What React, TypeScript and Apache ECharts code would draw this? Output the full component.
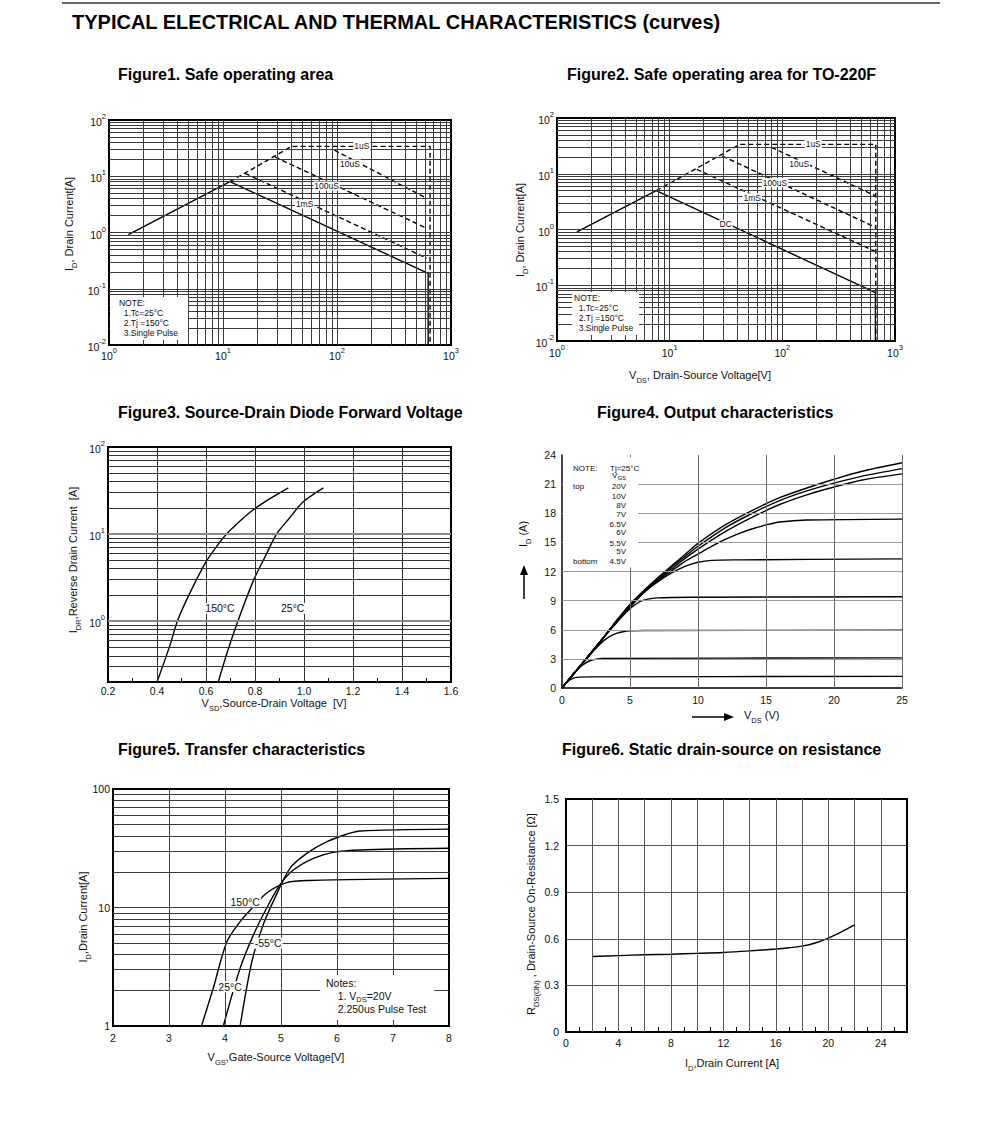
import React, { useEffect, useRef } from 'react';
import * as echarts from 'echarts';

const FONT = 'Arial, "Liberation Sans", Helvetica, sans-serif';

// ---------- Figure 1: Safe operating area ----------
const f1DC = [[1.48, 0.92], [11.5, 8.0], [630, 0.188], [630, 0.01]];
const f1P1us = [[11.5, 8.0], [40, 34], [655, 34], [655, 0.01]];
const f1P10us = [[95, 29], [612, 4.05]];
const f1P100us = [[28.6, 22], [612, 1.19]];
const f1P1ms = [[15.6, 11.3], [612, 0.35]];
const f1Labels: [number, number, string][] = [[165, 34, '1uS'], [130, 16.5, '10uS'], [81, 6.7, '100uS'], [52, 3.2, '1mS']];
const f1NoteAt = [1.02, 0.0713];

// ---------- Figure 2: Safe operating area for TO-220F ----------
const f2DC = [[1.5, 0.91], [7.6, 4.97], [670, 0.0736], [670, 0.01]];
const f2P1us = [[7.6, 4.97], [42, 33.7], [675, 33.7], [675, 0.01]];
const f2P10us = [[80, 29.8], [675, 3.99]];
const f2P100us = [[29.3, 20.8], [675, 1.09]];
const f2P1ms = [[17.4, 12.0], [675, 0.4]];
const f2Labels: [number, number, string][] = [[188, 33.7, '1uS'], [141, 14.8, '10uS'], [86, 6.9, '100uS'], [54, 3.7, '1mS'], [31.4, 1.24, 'DC']];
const f2NoteAt = [1.36, 0.0757];

// ---------- Figure 3: Source-Drain diode forward voltage ----------
const f3T150 = [[0.4, 0.2], [0.45, 0.5], [0.486, 1.05], [0.534, 2.1], [0.598, 4.7], [0.64, 7.0], [0.684, 10], [0.74, 14.2], [0.793, 19], [0.861, 25.5], [0.936, 34]];
const f3T25 = [[0.65, 0.2], [0.69, 0.47], [0.738, 1.15], [0.793, 2.9], [0.84, 5.4], [0.888, 10], [0.94, 15.2], [0.997, 23.5], [1.079, 34]];
const f3Labels: [number, number, string][] = [[0.657, 1.4, '150°C'], [0.954, 1.4, '25°C']];

// ---------- Figure 4: Output characteristics ----------
const f4V20 = [[0, 0], [1, 1.7], [2, 3.4], [3, 5.1], [4, 6.9], [5, 8.6], [6, 10.0], [7, 11.3], [8, 12.5], [9, 13.7], [10, 14.9], [12, 16.8], [14, 18.3], [16, 19.6], [18, 20.6], [20, 21.5], [22, 22.3], [25, 23.2]];
const f4V10 = [[0, 0], [1, 1.7], [2, 3.4], [3, 5.1], [4, 6.9], [5, 8.6], [6, 10.0], [7, 11.2], [8, 12.4], [9, 13.5], [10, 14.6], [12, 16.5], [14, 18.0], [16, 19.3], [18, 20.3], [20, 21.1], [22, 21.8], [25, 22.6]];
const f4V8 = [[0, 0], [1, 1.7], [2, 3.4], [3, 5.1], [4, 6.9], [5, 8.5], [6, 9.9], [7, 11.1], [8, 12.2], [9, 13.3], [10, 14.3], [12, 16.1], [14, 17.6], [16, 18.9], [18, 19.9], [20, 20.7], [22, 21.4], [25, 22.05]];
const f4V7 = [[0, 0], [1, 1.7], [2, 3.4], [3, 5.1], [4, 6.8], [5, 8.4], [6, 9.8], [7, 11.0], [8, 12.0], [9, 13.0], [10, 13.8], [11, 14.6], [12, 15.3], [13, 15.9], [14, 16.4], [15, 16.8], [16, 17.1], [18, 17.3], [25, 17.4]];
const f4V65 = [[0, 0], [1, 1.7], [2, 3.4], [3, 5.1], [4, 6.8], [5, 8.3], [6, 9.8], [7, 10.9], [8, 11.8], [9, 12.5], [10, 12.95], [11, 13.15], [13, 13.2], [25, 13.3]];
const f4V6 = [[0, 0], [1, 1.7], [2, 3.4], [3, 5.1], [4, 6.7], [4.8, 7.9], [5.5, 8.7], [6, 9.05], [7, 9.28], [10, 9.35], [25, 9.4]];
const f4V55 = [[0, 0], [1, 1.7], [2, 3.3], [2.5, 4.1], [3, 4.8], [3.5, 5.3], [4, 5.62], [4.5, 5.8], [5, 5.88], [6, 5.92], [25, 5.95]];
const f4V5 = [[0, 0], [0.5, 0.9], [1, 1.72], [1.5, 2.35], [2, 2.78], [2.5, 2.98], [3, 3.05], [25, 3.1]];
const f4V45 = [[0, 0], [0.4, 0.68], [0.8, 1.0], [1.2, 1.12], [2, 1.15], [25, 1.2]];
const f4NoteLeft: [number, number, string][] = [[0.81, 22.66, 'NOTE:'], [3.53, 22.66, 'Tj=25°C'], [0.81, 20.74, 'top'], [0.81, 13.08, 'bottom']];
const f4NoteVgs: [number, number, string][] = [[3.68, 21.82, '{m|V}{d|GS}']];
const f4NoteRight: [number, number, string][] = [[4.71, 20.74, '20V'], [4.71, 19.71, '10V'], [4.71, 18.78, '8V'], [4.71, 17.89, '7V'], [4.71, 16.89, '6.5V'], [4.71, 16.04, '6V'], [4.71, 14.86, '5.5V'], [4.71, 14.04, '5V'], [4.71, 13.08, '4.5V']];
const f4NoteBox = [[0.07, 23.8], [5.6, 12.4]];

// ---------- Figure 5: Transfer characteristics ----------
const f5T150 = [[3.58, 1.0], [3.79, 2.08], [4.03, 5.1], [4.27, 7.6], [4.51, 10.2], [4.74, 13.2], [5.1, 16.2], [5.52, 16.9], [8, 17.6]];
const f5T25 = [[3.97, 1.0], [4.27, 3.07], [4.51, 5.9], [4.74, 9.8], [4.98, 15.5], [5.22, 20.7], [5.58, 26], [5.93, 29.2], [6.41, 30.6], [8, 31.6]];
const f5Tm55 = [[4.27, 1.0], [4.48, 3.5], [4.68, 7.1], [4.86, 11.2], [5.16, 21.4], [5.46, 28.6], [5.82, 35.9], [6.17, 41.5], [6.41, 44.2], [8, 45.9]];
const f5Labels: [number, number, string][] = [[4.36, 11.2, '150°C'], [4.77, 5.0, '-55°C'], [4.09, 2.15, '25°C']];
const f5NoteAt = [5.696, 2.69];

// ---------- Figure 6: Static drain-source on resistance ----------
const f6Rds = [[2, 0.486], [4, 0.492], [6, 0.497], [8, 0.501], [10, 0.506], [12, 0.512], [14, 0.522], [16, 0.534], [17, 0.542], [18, 0.553], [19, 0.573], [20, 0.605], [21, 0.645], [22, 0.69]];

// ---------- helpers ----------
const supRich = {
  b: { fontSize: 10.5, fontFamily: FONT, color: '#111', lineHeight: 15, verticalAlign: 'bottom' },
  s: { fontSize: 7.5, fontFamily: FONT, color: '#111', lineHeight: 15, verticalAlign: 'top' },
};
const nameRich = {
  n: { fontSize: 11, fontFamily: FONT, fill: '#111', color: '#111', lineHeight: 15, verticalAlign: 'top' },
  d: { fontSize: 7.5, fontFamily: FONT, fill: '#111', color: '#111', lineHeight: 15, verticalAlign: 'bottom' },
};
const smallRich = {
  m: { fontSize: 8, fontFamily: FONT, fill: '#111', lineHeight: 10, verticalAlign: 'top' },
  d: { fontSize: 6, fontFamily: FONT, fill: '#111', lineHeight: 10, verticalAlign: 'bottom' },
};
const noteRich = {
  t: { fontSize: 10.5, fontFamily: FONT, fill: '#111', lineHeight: 13, verticalAlign: 'top' },
  u: { fontSize: 7.5, fontFamily: FONT, fill: '#111', lineHeight: 13, verticalAlign: 'bottom' },
};

const isPow10 = (v: number) => Math.abs(Math.log10(v) - Math.round(Math.log10(v))) < 1e-6;
const pow10Fmt = (v: number) => (isPow10(v) ? `{b|10}{s|${Math.round(Math.log10(v))}}` : '');
const plainPowFmt = (v: number) => (isPow10(v) ? String(Math.round(Math.pow(10, Math.round(Math.log10(v))))) : '');
const multFmt = (step: number, digits: number) => (v: number) =>
  Math.abs(v / step - Math.round(v / step)) < 1e-6 ? (v === 0 ? '0' : v.toFixed(digits)) : '';

function logVals(kMin: number, kMax: number, lo: number, hi: number) {
  const out: number[] = [];
  for (let k = kMin; k <= kMax; k++) {
    for (let m = 1; m <= 9; m++) {
      const v = m * Math.pow(10, k);
      if (v > lo * 1.0001 && v < hi * 0.9999) out.push(v);
    }
  }
  return out;
}
function linVals(from: number, to: number, step: number) {
  const out: number[] = [];
  for (let v = from; v <= to + 1e-9; v += step) out.push(Math.round(v * 1000) / 1000);
  return out;
}

function gridLines(gi: number, xs: number[], ys: number[], color: string, width: number) {
  return {
    type: 'line', xAxisIndex: gi, yAxisIndex: gi, data: [], silent: true, z: 1,
    markLine: {
      silent: true, symbol: ['none', 'none'], animation: false, label: { show: false },
      lineStyle: { color, width, type: 'solid' },
      emphasis: { disabled: true },
      data: [...xs.map((v) => ({ xAxis: v })), ...ys.map((v) => ({ yAxis: v }))],
    },
  };
}

function curve(gi: number, data: number[][], opts: any = {}) {
  return {
    type: 'line', xAxisIndex: gi, yAxisIndex: gi, data, symbol: 'none', silent: true, z: 2,
    lineStyle: { color: '#000', width: 1.4, type: 'solid' },
    ...opts,
  };
}

function logAxis(gi: number, min: number, max: number, fmt: any, margin: number) {
  return {
    gridIndex: gi, type: 'log', logBase: 10, min, max,
    axisLine: { show: false }, axisTick: { show: false }, splitLine: { show: false },
    axisLabel: { formatter: fmt, rich: supRich, margin, color: '#111', fontSize: 10.5, fontFamily: FONT, hideOverlap: false },
  };
}
function valAxis(gi: number, min: number, max: number, interval: number, fmt: any, margin: number, extra: any = {}) {
  return {
    gridIndex: gi, type: 'value', min, max, interval,
    axisLine: { show: false }, axisTick: { show: false }, splitLine: { show: false },
    axisLabel: { formatter: fmt, margin, color: '#111', fontSize: 10.5, fontFamily: FONT, hideOverlap: false },
    ...extra,
  };
}

const frame = { show: true, borderColor: '#000', borderWidth: 2, backgroundColor: 'rgba(0,0,0,0)' };

function baseGraphic(): any[] {
  const title = (x: number, y: number, text: string, size = 16) => ({
    type: 'text', x, y, silent: true,
    style: { text, fill: '#000', fontSize: size, fontWeight: 'bold', fontFamily: FONT, align: 'left', verticalAlign: 'middle' },
  });
  const axisName = (x: number, y: number, text: string, rotate: boolean, align = 'center') => ({
    type: 'text', x, y, rotation: rotate ? Math.PI / 2 : 0, silent: true,
    style: { text, rich: nameRich, align, verticalAlign: 'middle', fill: '#111' },
  });
  return [
    { type: 'line', silent: true, shape: { x1: 62, y1: 3, x2: 940, y2: 3 }, style: { stroke: '#333', lineWidth: 1.5 } },
    title(72, 22, 'TYPICAL ELECTRICAL AND THERMAL CHARACTERISTICS (curves)', 20),
    title(118, 74, 'Figure1. Safe operating area'),
    title(567, 74, 'Figure2. Safe operating area for TO-220F'),
    title(118, 412, 'Figure3. Source-Drain Diode Forward Voltage'),
    title(597, 412, 'Figure4. Output characteristics'),
    title(118, 749, 'Figure5. Transfer characteristics'),
    title(562, 749, 'Figure6. Static drain-source on resistance'),
    axisName(71, 224, '{n|I}{d|D}{n|, Drain Current[A]}', true),
    axisName(522, 230, '{n|I}{d|D}{n|, Drain Current[A]}', true),
    axisName(700, 377, '{n|V}{d|DS}{n|, Drain-Source Voltage[V]}', false),
    axisName(75, 560, '{n|I}{d|DR}{n|,Reverse Drain Current  [A]}', true),
    axisName(274, 705, '{n|V}{d|SD}{n|,Source-Drain Voltage  [V]}', false),
    axisName(525, 534, '{n|I}{d|D}{n| (A)}', true),
    axisName(744, 717, '{n|V}{d|DS}{n| (V)}', false, 'left'),
    axisName(85, 917, '{n|I}{d|D}{n|,Drain Current[A]}', true),
    axisName(276, 1059, '{n|V}{d|GS}{n|,Gate-Source Voltage[V]}', false),
    axisName(533, 914, '{n|R}{d|DS(ON)}{n| , Drain-Source On-Resistance [Ω]}', true),
    axisName(732, 1065, '{n|I}{d|D}{n|,Drain Current [A]}', false),
    // arrows of figure 4
    { type: 'line', silent: true, shape: { x1: 524, y1: 599, x2: 524, y2: 573 }, style: { stroke: '#000', lineWidth: 1.5 } },
    { type: 'polygon', silent: true, shape: { points: [[524, 565], [520, 575], [528, 575]] }, style: { fill: '#000' } },
    { type: 'line', silent: true, shape: { x1: 692, y1: 717, x2: 726, y2: 717 }, style: { stroke: '#000', lineWidth: 1.5 } },
    { type: 'polygon', silent: true, shape: { points: [[734, 717], [724, 713], [724, 721]] }, style: { fill: '#000' } },
  ];
}

function buildOption(): any {
  const dashed = { lineStyle: { color: '#000', width: 1.4, type: [5, 3] } };
  const sm = { smooth: 0.3 };
  return {
    animation: false,
    backgroundColor: '#fff',
    textStyle: { fontFamily: FONT },
    grid: [
      { left: 109, top: 120, width: 342, height: 225, ...frame },
      { left: 557, top: 118, width: 338, height: 223, ...frame },
      { left: 108, top: 447, width: 343, height: 235, ...frame },
      { left: 562, top: 455, width: 340, height: 233, show: false },
      { left: 113, top: 789, width: 336, height: 237, ...frame },
      { left: 566, top: 799, width: 341, height: 233, ...frame },
    ],
    xAxis: [
      logAxis(0, 1, 1000, pow10Fmt, 1),
      logAxis(1, 1, 1000, pow10Fmt, 2),
      valAxis(2, 0.2, 1.6, 0.1, multFmt(0.2, 1), 3, {
        axisTick: { show: true, inside: true, length: 4, lineStyle: { color: '#000', width: 1 } },
      }),
      valAxis(3, 0, 25, 5, (v: number) => String(v), 6, {
        axisLine: { show: true, lineStyle: { color: '#000', width: 1.5 } },
      }),
      valAxis(4, 2, 8, 1, (v: number) => String(v), 6),
      valAxis(5, 0, 26, 1, multFmt(4, 0), 5, {
        axisTick: { show: true, inside: true, length: 5, lineStyle: { color: '#000', width: 1 } },
      }),
    ],
    yAxis: [
      logAxis(0, 0.01, 100, pow10Fmt, 3),
      logAxis(1, 0.01, 100, pow10Fmt, 3),
      logAxis(2, 0.2, 100, pow10Fmt, 3),
      valAxis(3, 0, 24, 3, (v: number) => String(v), 6, {
        axisLine: { show: true, lineStyle: { color: '#000', width: 1.5 } },
      }),
      logAxis(4, 1, 100, plainPowFmt, 3),
      valAxis(5, 0, 1.5, 0.3, multFmt(0.3, 1), 7),
    ],
    series: [
      // Figure 1
      gridLines(0, logVals(0, 2, 1, 1000), logVals(-2, 1, 0.01, 100), '#3a3a3a', 1),
      curve(0, f1DC),
      curve(0, f1P1us, dashed),
      curve(0, f1P10us, dashed),
      curve(0, f1P100us, dashed),
      curve(0, f1P1ms, dashed),
      // Figure 2
      gridLines(1, logVals(0, 2, 1, 1000), logVals(-2, 1, 0.01, 100), '#3a3a3a', 1),
      curve(1, f2DC),
      curve(1, f2P1us, dashed),
      curve(1, f2P10us, dashed),
      curve(1, f2P100us, dashed),
      curve(1, f2P1ms, dashed),
      // Figure 3
      gridLines(2, linVals(0.4, 1.4, 0.2), logVals(-1, 1, 0.2, 100).filter((v) => !isPow10(v)), '#333', 1),
      gridLines(2, [], [1, 10], '#888', 2),
      curve(2, f3T150, sm),
      curve(2, f3T25, sm),
      // Figure 4
      gridLines(3, [], linVals(3, 21, 3), '#9a9a9a', 1),
      gridLines(3, linVals(5, 25, 5), [], '#6a6a6a', 1),
      curve(3, f4V20, sm), curve(3, f4V10, sm), curve(3, f4V8, sm),
      curve(3, f4V7, sm), curve(3, f4V65, sm), curve(3, f4V6, sm),
      curve(3, f4V55, sm), curve(3, f4V5, sm), curve(3, f4V45, sm),
      // Figure 5
      gridLines(4, linVals(3, 7, 1), logVals(0, 1, 1, 100), '#3a3a3a', 1),
      curve(4, f5T150, sm),
      curve(4, f5T25, sm),
      curve(4, f5Tm55, sm),
      // Figure 6
      gridLines(5, linVals(2, 24, 2), linVals(0.3, 1.2, 0.3), '#555', 1),
      curve(5, f6Rds, sm),
    ],
    graphic: baseGraphic(),
  };
}

function annotationGraphic(chart: any): any[] {
  const px = (gi: number, x: number, y: number) => chart.convertToPixel({ gridIndex: gi }, [x, y]) as number[];
  const out: any[] = [];
  const centerLabels = (gi: number, items: [number, number, string][], fs: number) => {
    items.forEach(([x, y, t]) => {
      const [X, Y] = px(gi, x, y);
      out.push({
        type: 'text', x: X, y: Y, silent: true, z: 100,
        style: { text: t, fill: '#111', fontSize: fs, fontFamily: FONT, align: 'center', verticalAlign: 'middle', backgroundColor: '#fff', padding: [0, 1] },
      });
    });
  };
  const note = (gi: number, at: number[], pad: number[]) => {
    const [X, Y] = px(gi, at[0], at[1]);
    out.push({
      type: 'text', x: X, y: Y, silent: true, z: 100,
      style: {
        text: 'NOTE:\n  1.Tc=25°C\n  2.Tj =150°C\n  3.Single Pulse', fill: '#111', fontSize: 8.5, lineHeight: 10,
        fontFamily: FONT, align: 'left', verticalAlign: 'top', backgroundColor: '#fff', padding: pad,
      },
    });
  };
  centerLabels(0, f1Labels, 8.5);
  note(0, f1NoteAt, [1, 10, 2, 9]);
  centerLabels(1, f2Labels, 8.5);
  note(1, f2NoteAt, [1, 6, 2, 2]);
  centerLabels(2, f3Labels, 10.5);
  centerLabels(4, f5Labels, 10.5);
  {
    const [X, Y] = px(4, f5NoteAt[0], f5NoteAt[1]);
    out.push({
      type: 'text', x: X, y: Y, silent: true, z: 100,
      style: {
        text: '{t|Notes:}\n{t|    1. V}{u|DS}{t|=20V}\n{t|    2.250us Pulse Test}', rich: noteRich,
        align: 'left', verticalAlign: 'top', backgroundColor: '#fff', padding: [2, 8, 4, 6],
      },
    });
  }
  {
    const [X1, Y1] = px(3, f4NoteBox[0][0], f4NoteBox[0][1]);
    const [X2, Y2] = px(3, f4NoteBox[1][0], f4NoteBox[1][1]);
    out.push({ type: 'rect', silent: true, z: 95, shape: { x: X1, y: Y1, width: X2 - X1, height: Y2 - Y1 }, style: { fill: '#fff' } });
    f4NoteLeft.forEach(([x, y, t]) => {
      const [X, Y] = px(3, x, y);
      out.push({ type: 'text', x: X, y: Y, silent: true, z: 100, style: { text: t, fill: '#111', fontSize: 8, fontFamily: FONT, align: 'left', verticalAlign: 'middle' } });
    });
    f4NoteVgs.forEach(([x, y, t]) => {
      const [X, Y] = px(3, x, y);
      out.push({ type: 'text', x: X, y: Y, silent: true, z: 100, style: { text: t, rich: smallRich, align: 'left', verticalAlign: 'middle' } });
    });
    f4NoteRight.forEach(([x, y, t]) => {
      const [X, Y] = px(3, x, y);
      out.push({ type: 'text', x: X, y: Y, silent: true, z: 100, style: { text: t, fill: '#111', fontSize: 8, fontFamily: FONT, align: 'right', verticalAlign: 'middle' } });
    });
  }
  return out;
}

export default function App() {
  const ref = useRef<HTMLDivElement>(null);
  useEffect(() => {
    const chart = echarts.init(ref.current as HTMLDivElement, null, { renderer: 'svg' });
    chart.setOption(buildOption());
    chart.setOption({ graphic: [...baseGraphic(), ...annotationGraphic(chart)] });
    return () => chart.dispose();
  }, []);
  return (
    <div
      ref={ref}
      style={{ position: 'absolute', left: 0, top: 0, width: 991, height: 1138, background: '#fff' }}
    />
  );
}
